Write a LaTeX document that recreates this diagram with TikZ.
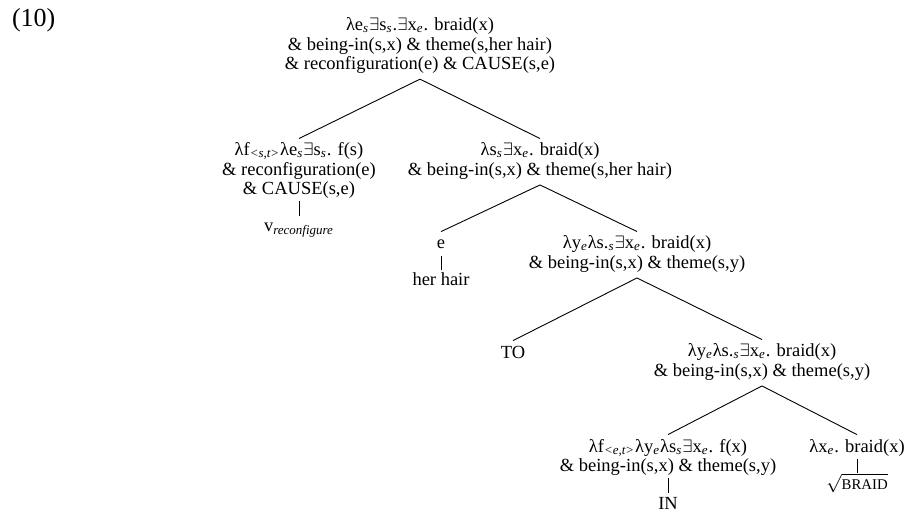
\documentclass[tikz,border=0pt]{standalone}
\usepackage{fontspec}
\setmainfont{Liberation Serif}
\newcommand\sbx[1]{\textsubscript{\itshape #1}}
\newcommand\lam{λ}
\newcommand\ex{$\exists$}
\newcommand\ml[1]{\begin{tabular}[t]{@{}c@{}}#1\end{tabular}}
\begin{document}
\begin{tikzpicture}[x=0.5pt,y=-0.5pt,
  lbl/.style={inner sep=0pt,outer sep=2pt,font=\fontsize{9.25}{9.6}\selectfont,anchor=base},
  one/.style={lbl,text height=6.7pt,text depth=2.9pt},
  edge/.style={line width=0.45pt},
  bar/.style={edge,shorten <=-1.5pt,shorten >=-0.8pt}]
\useasboundingbox (0,0) rectangle (908,512);
\node[lbl,anchor=base west,font=\fontsize{13}{15}\selectfont] (num) at (8,27) {(10)};
\node[lbl] (root) at (420,31) {\ml{\lam e\sbx{s}\ex s\sbx{s}.\ex x\sbx{e}. braid(x)\\ \& being-in(s,x) \& theme(s,her hair)\\ \& reconfiguration(e) \& CAUSE(s,e)}};
\node[lbl] (L) at (299,156) {\ml{\lam f\sbx{<s,t>}\lam e\sbx{s}\ex s\sbx{s}. f(s)\\ \& reconfiguration(e)\\ \& CAUSE(s,e)}};
\node[one] (v) at (299,232) {v\sbx{reconf{}igure}};
\node[lbl] (R) at (540,156) {\ml{\lam s\sbx{s}\ex x\sbx{e}. braid(x)\\ \& being-in(s,x) \& theme(s,her hair)}};
\node[one] (e) at (441,249) {e};
\node[one] (hh) at (441,286) {her hair};
\node[lbl] (M) at (637,249) {\ml{\lam y\sbx{e}\lam s.\sbx{s}\ex x\sbx{e}. braid(x)\\ \& being-in(s,x) \& theme(s,y)}};
\node[one] (TO) at (513,358) {TO};
\node[lbl] (N) at (762,357) {\ml{\lam y\sbx{e}\lam s.\sbx{s}\ex x\sbx{e}. braid(x)\\ \& being-in(s,x) \& theme(s,y)}};
\node[lbl] (B) at (668,452) {\ml{\lam f\sbx{<e,t>}\lam y\sbx{e}\lam s\sbx{s}\ex x\sbx{e}. f(x)\\ \& being-in(s,x) \& theme(s,y)}};
\node[one] (IN) at (668,509) {IN};
\node[one] (br) at (857,452) {\lam x\sbx{e}. braid(x)};
\node[one] (rt) at (857,489) {$\sqrt{\mbox{\fontsize{7.4}{8}\selectfont BRAID}}$};
\draw[edge] (root.south) -- (L.north);
\draw[edge] (root.south) -- (R.north);
\draw[bar] (L.south) -- (v.north);
\draw[edge] (R.south) -- (e.north);
\draw[edge] (R.south) -- (M.north);
\draw[bar] (e.south) -- (hh.north);
\draw[edge] (M.south) -- (TO.north);
\draw[edge] (M.south) -- (N.north);
\draw[edge] (N.south) -- (B.north);
\draw[edge] (N.south) -- (br.north);
\draw[bar] (B.south) -- (IN.north);
\draw[bar] (br.south) -- (rt.north);
\end{tikzpicture}
\end{document}
